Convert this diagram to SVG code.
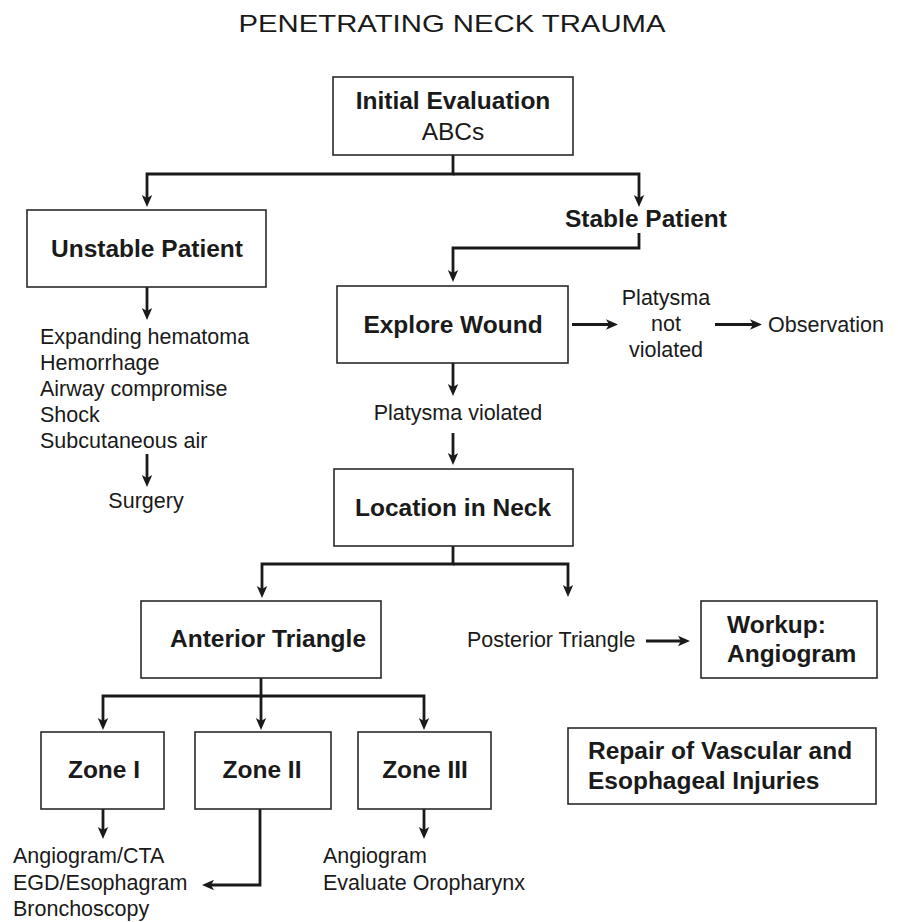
<svg xmlns="http://www.w3.org/2000/svg" width="898" height="922" viewBox="0 0 898 922">
  <style>
    .box { fill: #ffffff; stroke: #2a2a2a; stroke-width: 1.6; }
    .b { font-family: "Liberation Sans", Arial, sans-serif; font-weight: bold; font-size: 24.5px; fill: #1a1a1a; }
    .r { font-family: "Liberation Sans", Arial, sans-serif; font-size: 21.5px; fill: #1a1a1a; }
    .rl { font-family: "Liberation Sans", Arial, sans-serif; font-size: 24.5px; fill: #1a1a1a; }
    .mid { text-anchor: middle; }
    .conn path { fill: none; stroke: #1a1a1a; stroke-width: 2.8; marker-end: url(#arrow); }
  </style>
  <defs>
    <marker id="arrow" viewBox="0 0 12 12" markerWidth="12" markerHeight="12" refX="4" refY="6" orient="auto" markerUnits="userSpaceOnUse">
      <path d="M0,0.8 L12,6 L0,11.2 L3,6 z" fill="#1a1a1a"/>
    </marker>
  </defs>

  <rect width="898" height="922" fill="#ffffff"/>

  <text id="title" class="rl mid" x="452" y="32" font-size="25" textLength="427" lengthAdjust="spacingAndGlyphs">PENETRATING NECK TRAUMA</text>

  <!-- connectors -->
  <g id="connectors" class="conn">
    <path d="M453,155 V174 H147 V199"/>
    <path d="M453,174 H639 V199"/>
    <path d="M639,233 V248 H453 V274"/>
    <path d="M572,324.5 H610"/>
    <path d="M715,324.5 H754"/>
    <path d="M147,287 V312"/>
    <path d="M147,454 V479"/>
    <path d="M453,363 V388"/>
    <path d="M453,433 V457"/>
    <path d="M453,546 V564 H262 V590"/>
    <path d="M453,564 H568 V589"/>
    <path d="M646,641 H682"/>
    <path d="M261,678 V696 H103 V722"/>
    <path d="M261,696 V722"/>
    <path d="M261,696 H424 V722"/>
    <path d="M103,809 V831"/>
    <path d="M260,809 V885 H210"/>
    <path d="M424,809 V831"/>
  </g>

  <g id="initial-evaluation">
    <rect class="box" x="333" y="77" width="240" height="78"/>
    <text class="b mid" x="453" y="109">Initial Evaluation</text>
    <text class="rl mid" x="453" y="140">ABCs</text>
  </g>

  <g id="unstable-patient">
    <rect class="box" x="27" y="210" width="239" height="77"/>
    <text class="b mid" x="147" y="257">Unstable Patient</text>
  </g>

  <g id="stable-patient">
    <text class="b mid" x="646" y="227">Stable Patient</text>
  </g>

  <g id="unstable-signs">
    <text class="r" x="40" y="344">Expanding hematoma</text>
    <text class="r" x="40" y="370">Hemorrhage</text>
    <text class="r" x="40" y="396">Airway compromise</text>
    <text class="r" x="40" y="422">Shock</text>
    <text class="r" x="40" y="448">Subcutaneous air</text>
  </g>

  <g id="surgery">
    <text class="r mid" x="146" y="508">Surgery</text>
  </g>

  <g id="explore-wound">
    <rect class="box" x="337" y="286" width="231" height="77"/>
    <text class="b mid" x="453" y="333">Explore Wound</text>
  </g>

  <g id="platysma-not-violated">
    <text class="r mid" x="666" y="305">Platysma</text>
    <text class="r mid" x="666" y="331">not</text>
    <text class="r mid" x="666" y="357">violated</text>
  </g>

  <g id="observation">
    <text class="r" x="768" y="332">Observation</text>
  </g>

  <g id="platysma-violated">
    <text class="r mid" x="458" y="420">Platysma violated</text>
  </g>

  <g id="location-in-neck">
    <rect class="box" x="334" y="469" width="239" height="77"/>
    <text class="b mid" x="453" y="516">Location in Neck</text>
  </g>

  <g id="anterior-triangle">
    <rect class="box" x="141" y="601" width="240" height="77"/>
    <text class="b mid" x="268" y="647">Anterior Triangle</text>
  </g>

  <g id="posterior-triangle">
    <text class="r" x="467" y="647">Posterior Triangle</text>
  </g>

  <g id="workup-angiogram">
    <rect class="box" x="701" y="601" width="176" height="77"/>
    <text class="b" x="727" y="633">Workup:</text>
    <text class="b" x="727" y="662">Angiogram</text>
  </g>

  <g id="zone-1">
    <rect class="box" x="41" y="732" width="123" height="77"/>
    <text class="b mid" x="104" y="778">Zone I</text>
  </g>

  <g id="zone-2">
    <rect class="box" x="195" y="732" width="136" height="77"/>
    <text class="b mid" x="262" y="778">Zone II</text>
  </g>

  <g id="zone-3">
    <rect class="box" x="358" y="732" width="133" height="77"/>
    <text class="b mid" x="425" y="778">Zone III</text>
  </g>

  <g id="repair">
    <rect class="box" x="568" y="728" width="308" height="76"/>
    <text class="b" x="588" y="759">Repair of Vascular and</text>
    <text class="b" x="588" y="789">Esophageal Injuries</text>
  </g>

  <g id="zone-1-2-workup">
    <text class="r" x="13" y="863">Angiogram/CTA</text>
    <text class="r" x="13" y="890">EGD/Esophagram</text>
    <text class="r" x="13" y="916">Bronchoscopy</text>
  </g>

  <g id="zone-3-workup">
    <text class="r" x="323" y="863">Angiogram</text>
    <text class="r" x="323" y="890">Evaluate Oropharynx</text>
  </g>
</svg>
